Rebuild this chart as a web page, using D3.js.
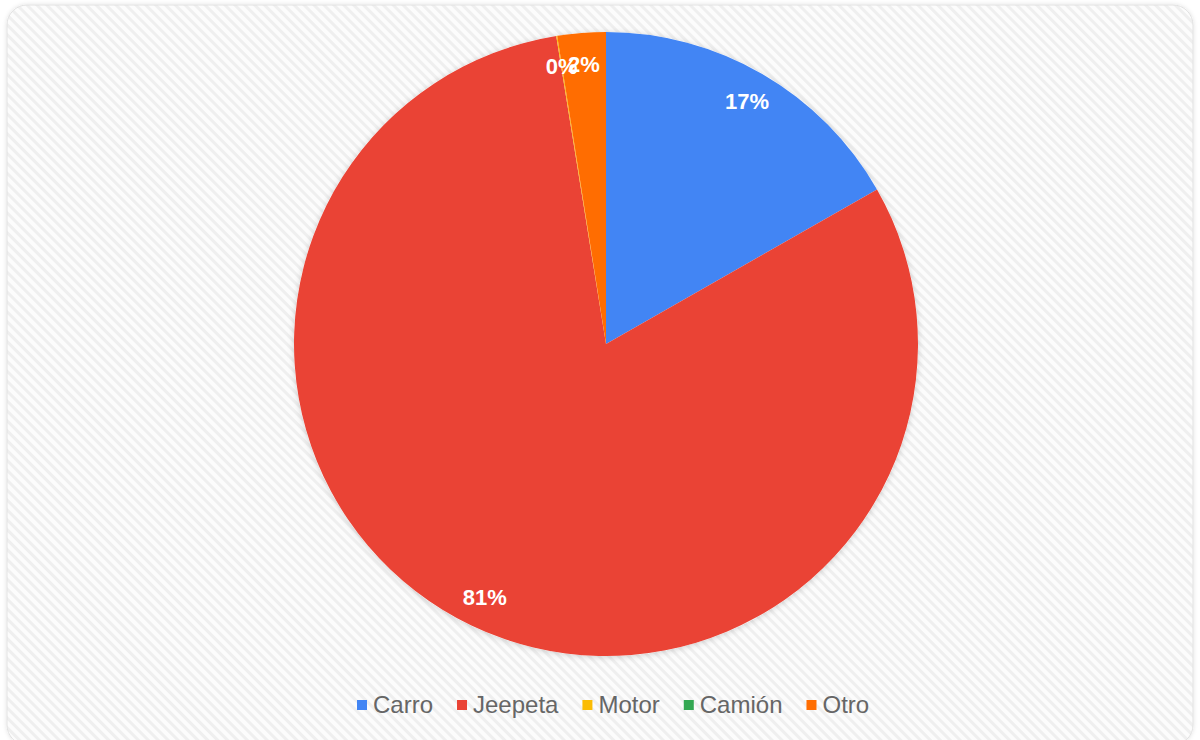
<!DOCTYPE html>
<html>
<head>
<meta charset="utf-8">
<script src="https://cdn.jsdelivr.net/npm/d3@7"></script>
<style>
  html, body { margin: 0; padding: 0; background: #fff; }
  svg { display: block; }
</style>
</head>
<body>
<div id="chart"></div>
<script>
// data
const categories = ["Carro", "Jeepeta", "Motor", "Camión", "Otro"];
const values = [16.75, 80.7, 0.05, 0, 2.5];
const labels = ["17%", "81%", "0%", "", "2%"];
const colors = ["#4285f4", "#ea4335", "#fbbc04", "#34a853", "#ff6d01"];

var width = 1200, height = 740;
var cx = 606, cy = 344, radius = 312;

var svg = d3.select("#chart").append("svg")
    .attr("width", width)
    .attr("height", height);

var defs = svg.append("defs");

// diagonal hatch background
var pat = defs.append("pattern")
    .attr("id", "hatch")
    .attr("patternUnits", "userSpaceOnUse")
    .attr("width", 7).attr("height", 7)
    .attr("patternTransform", "rotate(-45)");
pat.append("rect").attr("width", 7).attr("height", 7).attr("fill", "#fcfcfc");
pat.append("rect").attr("width", 3).attr("height", 7).attr("fill", "#efefef");

var shadow = defs.append("filter").attr("id", "shadow")
    .attr("x", "-10%").attr("y", "-10%").attr("width", "120%").attr("height", "120%");
shadow.append("feDropShadow")
    .attr("dx", 0).attr("dy", 1).attr("stdDeviation", 3)
    .attr("flood-color", "#000").attr("flood-opacity", 0.18);

var cardShadow = defs.append("filter").attr("id", "cardShadow")
    .attr("x", "-5%").attr("y", "-5%").attr("width", "110%").attr("height", "110%");
cardShadow.append("feDropShadow")
    .attr("dx", 0).attr("dy", 0).attr("stdDeviation", 2)
    .attr("flood-color", "#000").attr("flood-opacity", 0.12);

// card
svg.append("rect")
    .attr("x", 7).attr("y", 5)
    .attr("width", 1186).attr("height", 740)
    .attr("rx", 20).attr("ry", 20)
    .attr("fill", "url(#hatch)")
    .attr("stroke", "#e2e2e2")
    .attr("filter", "url(#cardShadow)");

var pie = d3.pie().sort(null).value(function(d) { return d; });
var arcs = pie(values);
var arc = d3.arc().innerRadius(0).outerRadius(radius);
var labelArc = d3.arc().innerRadius(281).outerRadius(281);

var g = svg.append("g")
    .attr("transform", "translate(" + cx + "," + cy + ")");

g.append("circle").attr("r", radius).attr("fill", "#fff").attr("filter", "url(#shadow)");

g.selectAll("path.slice")
    .data(arcs)
  .enter().append("path")
    .attr("class", "slice")
    .attr("d", arc)
    .attr("fill", function(d, i) { return colors[i]; });

g.selectAll("text.lbl")
    .data(arcs)
  .enter().append("text")
    .attr("class", "lbl")
    .attr("transform", function(d) {
      return "translate(" + labelArc.centroid(d) + ")";
    })
    .attr("text-anchor", "middle")
    .attr("dy", "0.35em")
    .style("font-family", "Arial, 'Liberation Sans', sans-serif")
    .style("font-weight", "bold")
    .style("font-size", "22px")
    .style("fill", "#fff")
    .text(function(d, i) { return labels[i]; });

// legend
var legend = svg.append("g").attr("transform", "translate(0,705)");
var lx = 357;
categories.forEach(function(name, i) {
  var item = legend.append("g").attr("transform", "translate(" + lx + ",0)");
  item.append("rect")
      .attr("x", 0).attr("y", -5)
      .attr("width", 10).attr("height", 10)
      .attr("fill", colors[i]);
  var t = item.append("text")
      .attr("x", 16).attr("dy", "0.35em")
      .style("font-family", "Arial, 'Liberation Sans', sans-serif")
      .style("font-size", "24px")
      .style("fill", "#666")
      .text(name);
  lx += 16 + t.node().getComputedTextLength() + 24;
});
</script>
</body>
</html>
